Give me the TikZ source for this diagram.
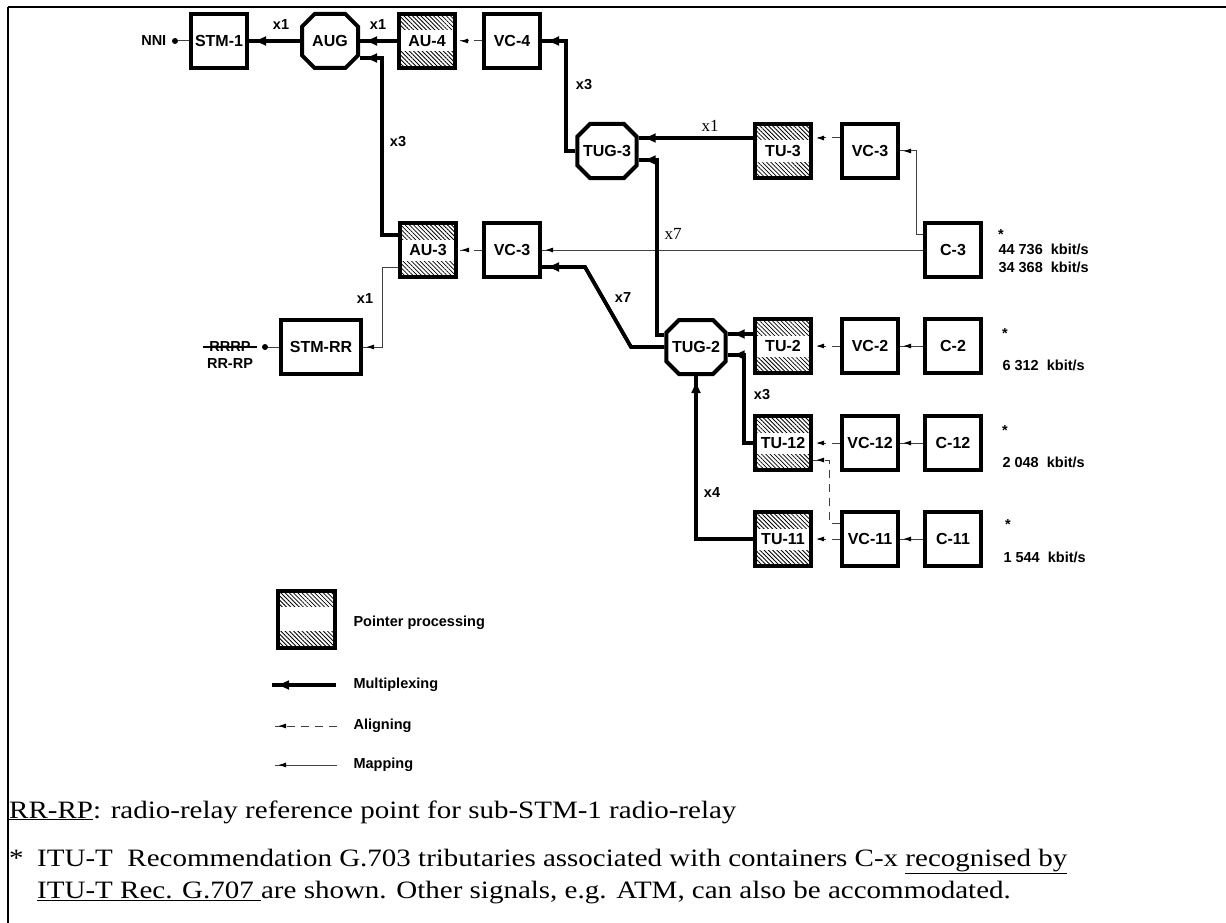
\documentclass[tikz,border=0pt]{standalone}
\usepackage{fontspec}
\setmainfont{Liberation Serif}
\setsansfont{Liberation Sans}
\usetikzlibrary{positioning,arrows.meta,shapes.misc,patterns.meta}

\begin{document}
\begin{tikzpicture}[
    x=1pt, y=-1pt,
    node distance=27pt,
    box/.style={draw, line width=4pt, minimum width=56pt, minimum height=54pt, inner sep=0pt, fill=white, font=\sffamily\bfseries\fontsize{16}{18}\selectfont},
    hatch/.style={pattern={Lines[angle=-45, distance=3pt, line width=0.8pt]}},
    pointer/.style={box, path picture={
        \fill[hatch] (path picture bounding box.north west) rectangle ([yshift=-16pt]path picture bounding box.north east);
        \fill[hatch] (path picture bounding box.south west) rectangle ([yshift=16pt]path picture bounding box.south east);}},
    group/.style={box, chamfered rectangle, chamfered rectangle xsep=7pt, chamfered rectangle ysep=7pt},
    mux/.style={line width=3.6pt, postaction={draw, line width=3.6pt, -{Latex[length=13pt,width=10pt]}, shorten >=4pt}},
    mapping/.style={line width=1pt, black!75, postaction={draw, -{Latex[length=8pt,width=5pt,black]}, shorten >=3pt}},
    aligning/.style={mapping, dash pattern=on 8pt off 6pt},
    dot/.style={circle, fill, inner sep=0pt, minimum size=6pt},
    lbl/.style={font=\sffamily\bfseries\fontsize{14.5}{17}\selectfont},
    serif/.style={font=\fontsize{17}{20}\selectfont},
    note/.style={font=\fontsize{25}{28}\selectfont, inner sep=0pt, anchor=base west, xscale=1.16, transform shape}
]
\useasboundingbox (0,0) rectangle (1226,923);

% frame
\coordinate (frametl) at (8,7);
\coordinate (frametr) at (1226,7);
\coordinate (framebl) at (8,923);
\draw[line width=2.5pt] (frametl) -- (frametr);
\draw[line width=1.5pt] (frametl) -- (framebl);

% top row
\node[box] (stm1) at (219,41) {STM-1};
\node[group] (aug) at (330,41) {AUG};
\node[pointer] (au4) at (427,41) {AU-4};
\node[box] (vc4) at (512,41) {VC-4};
\node[dot] (nnidot) at (175,41) {};
\node[lbl, left=2pt of nnidot] (nni) {NNI};

% TUG-3 branch
\node[group] (tug3) at (607,151) {TUG-3};
\node[pointer] (tu3) at (783,151) {TU-3};
\node[box, right=of tu3] (vc3a) {VC-3};
\node[box] (c3) at (953,250) {C-3};

% AU-3 branch
\node[pointer] (au3) at (428,250) {AU-3};
\node[box] (vc3b) at (512,250) {VC-3};
\node[box, minimum width=80pt] (stmrr) at (321,347) {STM-RR};
\node[dot] (rrdot) at (265,347) {};
\node[lbl] (rrrp) at (230,347) {RRRP};
\node[lbl] (rrrpnew) at (230,364) {RR-RP};

% TUG-2 branch
\node[group] (tug2) at (696,347) {TUG-2};
\node[pointer] (tu2) at (783,346) {TU-2};
\node[box, right=of tu2] (vc2) {VC-2};
\node[box, right=23pt of vc2] (c2) {C-2};
\node[pointer] (tu12) at (783,443) {TU-12};
\node[box, right=of tu12] (vc12) {VC-12};
\node[box, right=23pt of vc12] (c12) {C-12};
\node[pointer] (tu11) at (783,539) {TU-11};
\node[box, right=of tu11] (vc11) {VC-11};
\node[box, right=23pt of vc11] (c11) {C-11};

% multiplex factors
\node[lbl] (fstm) at (281,25) {x1};
\node[lbl] (faug) at (378,25) {x1};
\node[lbl] (fvc4) at (584,85) {x3};
\node[lbl] (fau3) at (398,142) {x3};
\node[serif] (ftu3) at (710,126) {x1};
\node[serif] (ftug3) at (673,234) {x7};
\node[lbl] (fvc3) at (623,298) {x7};
\node[lbl] (frr) at (365,299) {x1};
\node[lbl] (ftu12) at (762,395) {x3};
\node[lbl] (ftu11) at (712,493) {x4};

% tributary rates
\node[lbl] (starc3) at (1001,235) {*};
\node[lbl, anchor=west] (ratec3a) at (995,249) {44 736\ \ kbit/s};
\node[lbl, anchor=west] (ratec3b) at (995,267) {34 368\ \ kbit/s};
\node[lbl] (starc2) at (1005,334) {*};
\node[lbl, anchor=west] (ratec2) at (999,365) {6 312\ \ kbit/s};
\node[lbl] (starc12) at (1005,431) {*};
\node[lbl, anchor=west] (ratec12) at (999,462) {2 048\ \ kbit/s};
\node[lbl] (starc11) at (1008,525) {*};
\node[lbl, anchor=west] (ratec11) at (1000,557) {1 544\ \ kbit/s};

% connectors
\draw[line width=1pt, black!75] (nnidot) -- (stm1);
\draw[mux] (aug) -- (stm1);
\draw[mux] (au4) -- (aug);
\draw[aligning] (vc4) -- (au4);
\draw[mux] (tug3.west) -| (566,41) -- (vc4.east);
\draw[mux] (au3.west |- 0,235) -| (382,58) -- (aug.east |- 0,58);
\draw[mux] (tu3.west |- 0,138) -- (tug3.east |- 0,138);
\draw[aligning] (vc3a.west |- 0,138) -- (tu3.east |- 0,138);
\draw[mapping] (c3.west |- 0,234) -| (916,151) -- (vc3a.east);
\draw[mapping] (c3) -- (vc3b);
\draw[aligning] (vc3b) -- (au3);
\draw[mapping] (au3.west |- 0,267) -| (382,347) -- (stmrr.east);
\draw[line width=1pt, black!75] (rrdot) -- (stmrr);
\draw[line width=1.5pt] ([xshift=-3pt]rrrp.west) -- ([xshift=3pt]rrrp.east);
\draw[mux] (tug2.west) -- (631,347) -- (585,267) -- (vc3b.east |- 0,267);
\draw[mux] (tug2.west |- 0,335) -| (657,160) -- (tug3.east |- 0,160);
\draw[mux] (tu2.west |- 0,334) -- (tug2.east |- 0,334);
\draw[aligning] (vc2) -- (tu2);
\draw[mapping] (c2) -- (vc2);
\draw[mux] (tu12.west) -| (744,355) -- (tug2.east |- 0,355);
\draw[aligning] (vc12) -- (tu12);
\draw[mapping] (c12) -- (vc12);
\draw[mux] (tu11.west) -| (tug2.south);
\draw[aligning] (vc11) -- (tu11);
\draw[mapping] (c11) -- (vc11);
\draw[aligning] (vc11.west |- 0,523) -| (829,460) -- (tu12.east |- 0,460);

% legend
\node[pointer, minimum width=57pt, minimum height=57pt] (legptr) at (306,619) {};
\node[lbl, anchor=west] (legptrtxt) at (350,623) {Pointer processing};
\coordinate (legmuxa) at (336,685);
\coordinate (legmuxb) at (272,685);
\coordinate (legalia) at (337,726);
\coordinate (legalib) at (275,726);
\coordinate (legmapa) at (337,765);
\coordinate (legmapb) at (275,765);
\draw[mux] (legmuxa) -- (legmuxb);
\draw[aligning] (legalia) -- (legalib);
\draw[mapping] (legmapa) -- (legmapb);
\node[lbl, anchor=west] (legmuxtxt) at (350,685) {Multiplexing};
\node[lbl, anchor=west] (legalitxt) at (350,726) {Aligning};
\node[lbl, anchor=west] (legmaptxt) at (350,765) {Mapping};

% notes
\node[note] (rrnote) at (9,818) {\underline{RR-RP}: radio-relay reference point for sub-STM-1 radio-relay};
\node[note] (footstar) at (9,866) {*};
\node[note] (footone) at (37,866) {ITU-T\ \ Recommendation G.703 tributaries associated with containers C-x \underline{recognised by}};
\node[note] (foottwo) at (37,898) {\underline{ITU-T Rec. G.707\ }are shown. Other signals, e.g. ATM, can also be accommodated.};
\end{tikzpicture}
\end{document}
